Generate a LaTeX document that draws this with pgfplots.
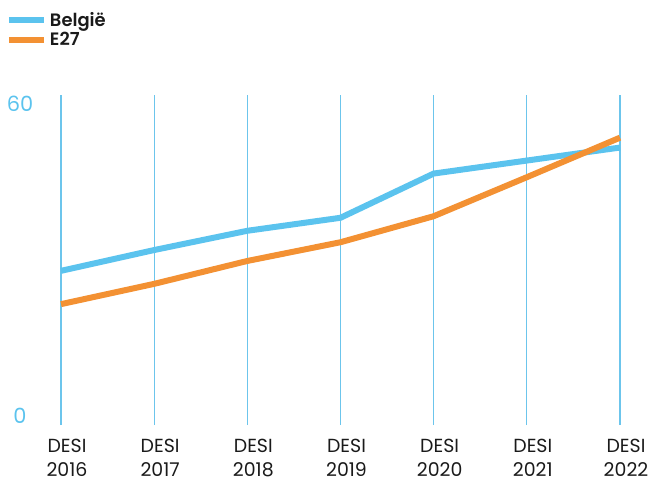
\documentclass[border=0pt]{standalone}
\usepackage{pgfplots}
\pgfplotsset{compat=1.18}
\usepackage{fontspec}
\setmainfont{Poppins}[BoldFont={Poppins SemiBold}]

\definecolor{belgie}{HTML}{5BC3EE}
\definecolor{eu}{HTML}{F39133}
\definecolor{gridblue}{HTML}{6CC5EC}
\definecolor{labtxt}{HTML}{1A1A1A}

\begin{document}
\begin{tikzpicture}
\useasboundingbox (0,0) rectangle (649bp,483bp);
\begin{axis}[
  at={(61bp,58bp)}, anchor=south west,
  scale only axis, width=559bp, height=330bp,
  xmin=0, xmax=6, ymin=-1.83, ymax=61.6,
  clip=false,
  axis line style={draw=none},
  tick style={draw=none},
  major tick length=0pt,
  xtick={0,...,6},
  xticklabels={{DESI\\2016},{DESI\\2017},{DESI\\2018},{DESI\\2019},{DESI\\2020},{DESI\\2021},{DESI\\2022}},
  xticklabel style={align=center, anchor=north, inner sep=0pt,
    xshift=6bp, yshift=-14bp,
    font=\fontsize{19}{24}\selectfont, text=labtxt},
  xmajorgrids,
  grid style={gridblue, line width=1.2bp},
  ytick={0,60},
  yticklabels={0,60},
  yticklabel style={anchor=center, xshift=-41bp,
    font=\fontsize{21}{25}\selectfont, text=belgie},
  legend style={at={(-0.0984,1.2515)}, anchor=north west, draw=none, fill=none,
    inner sep=0pt, outer sep=0pt, row sep=5bp,
    font=\fontsize{18}{21.6}\selectfont\bfseries, text=labtxt,
    nodes={inner sep=0pt},
    /tikz/every odd column/.append style={column sep=3bp}},
  legend cell align=left,
  legend image code/.code={\draw[#1, line width=6bp] (0bp,0bp) -- (35bp,0bp);},
]
% Belgium
\addplot[belgie, line width=6bp, line join=round] coordinates {
  (0,27.8) (1,31.8) (2,35.5) (3,38.0) (4,46.5) (5,49.0) (6,51.5)};
\addlegendentry{België}
% EU-27 average
\addplot[eu, line width=6bp, line join=round] coordinates {
  (0,21.4) (1,25.3) (2,29.7) (3,33.3) (4,38.3) (5,45.8) (6,53.4)};
\addlegendentry{E27}
\end{axis}
\end{tikzpicture}
\end{document}
